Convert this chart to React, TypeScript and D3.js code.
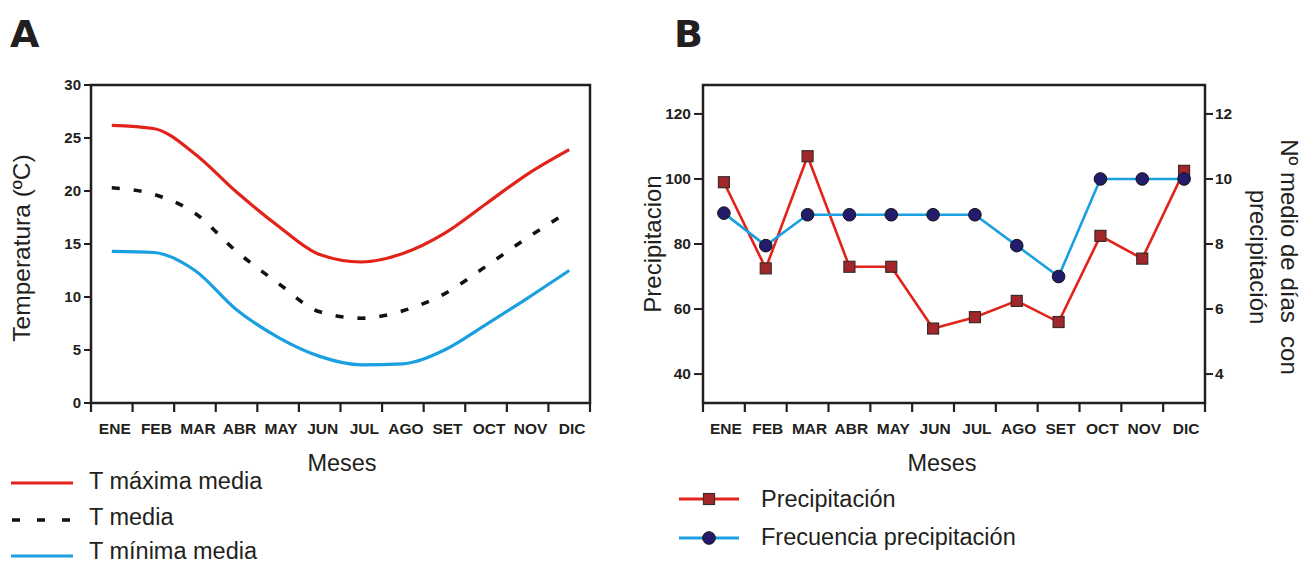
import React from 'react';
import * as d3 from 'd3';

const months = ['ENE', 'FEB', 'MAR', 'ABR', 'MAY', 'JUN', 'JUL', 'AGO', 'SET', 'OCT', 'NOV', 'DIC'];
const tMax = [26.2, 25.9, 23.5, 19.9, 16.7, 14.0, 13.3, 14.1, 16.0, 18.8, 21.6, 23.9];
const tMed = [20.3, 19.7, 17.9, 14.3, 11.3, 8.6, 8.0, 8.7, 10.3, 12.9, 15.6, 18.1];
const tMin = [14.3, 14.2, 12.5, 8.8, 6.2, 4.4, 3.6, 3.7, 5.0, 7.4, 9.9, 12.5];
const precip = [99, 72.5, 107, 73, 73, 54, 57.5, 62.5, 56, 82.5, 75.5, 102.5];
const freq = [8.95, 7.95, 8.9, 8.9, 8.9, 8.9, 8.9, 7.95, 7.0, 10, 10, 10];
const tempTicks = [0, 5, 10, 15, 20, 25, 30];
const precipTicks = [40, 60, 80, 100, 120];
const freqTicks = [4, 6, 8, 10, 12];

const RED = '#e2231a';
const BLUE = '#1a9fe0';
const DARK = '#231f20';
const SQ_FILL = '#a3262a';
const CIRC_FILL = '#221c6b';
const FONT = '"Liberation Sans", Arial, Helvetica, sans-serif';

export default function App() {
  // Panel A
  const xA = d3.scaleBand<string>().domain(months).range([91, 590]).padding(0);
  const yA = d3.scaleLinear().domain([0, 30]).range([403, 85]);
  const cxA = (m: string) => (xA(m) as number) + xA.bandwidth() / 2;
  const lineA = (vals: number[]) =>
    d3.line<number>().x((_, i) => cxA(months[i])).y((v) => yA(v)).curve(d3.curveMonotoneX)(vals) as string;

  // Panel B
  const xB = d3.scaleBand<string>().domain(months).range([703, 1205]).padding(0);
  const yL = d3.scaleLinear().domain([31.1, 128.9]).range([403, 85]);
  const yR = d3.scaleLinear().domain([3.11, 12.89]).range([403, 85]);
  const cxB = (m: string) => (xB(m) as number) + xB.bandwidth() / 2;
  const lineP = d3.line<number>().x((_, i) => cxB(months[i])).y((v) => yL(v))(precip) as string;
  const lineF = d3.line<number>().x((_, i) => cxB(months[i])).y((v) => yR(v))(freq) as string;

  const boundariesA = [...months.map((m) => xA(m) as number), 590];
  const boundariesB = [...months.map((m) => xB(m) as number), 1205];

  return (
    <svg
      width={1309}
      height={564}
      style={{ position: 'absolute', left: 0, top: 0, background: '#fff' }}
      fontFamily={FONT}
    >
      <rect x={0} y={0} width={1309} height={564} fill="#fff" />
      {/* Panel letters */}
      <text x={10} y={47} fontSize={38} fontWeight={900} fill={DARK} fontFamily='"DejaVu Sans", sans-serif'>A</text>
      <text x={674} y={47} fontSize={38} fontWeight={900} fill={DARK} fontFamily='"DejaVu Sans", sans-serif'>B</text>

      {/* ===== Panel A ===== */}
      <rect x={91} y={85} width={499} height={318} fill="none" stroke={DARK} strokeWidth={2.5} />
      {tempTicks.map((t) => (
        <g key={'ta' + t}>
          <line x1={84} x2={91} y1={yA(t)} y2={yA(t)} stroke={DARK} strokeWidth={2} />
          <text x={81} y={yA(t) + 5} textAnchor="end" fontSize={15} fontWeight="bold" fill={DARK}>{t}</text>
        </g>
      ))}
      {boundariesA.map((b, i) => (
        <line key={'bA' + i} x1={b} x2={b} y1={403} y2={412} stroke={DARK} strokeWidth={2.2} />
      ))}
      {months.map((m) => (
        <text key={'mA' + m} x={cxA(m) + 3} y={434} textAnchor="middle" fontSize={15.5} fontWeight="bold" fill={DARK}>{m}</text>
      ))}
      <path d={lineA(tMax)} fill="none" stroke={RED} strokeWidth={3.2} />
      <path d={lineA(tMed)} fill="none" stroke="#111" strokeWidth={3.6} strokeDasharray="8 14" />
      <path d={lineA(tMin)} fill="none" stroke={BLUE} strokeWidth={3.2} />
      <text x={342} y={471} textAnchor="middle" fontSize={23.5} fill={DARK}>Meses</text>
      <text transform="translate(21,248) rotate(-90)" textAnchor="middle" dominantBaseline="central" fontSize={24.5} fill={DARK}>Temperatura (ºC)</text>

      {/* Legend A */}
      <line x1={11} x2={73} y1={483} y2={483} stroke={RED} strokeWidth={3.2} />
      <text x={89} y={489} fontSize={23.5} fill={DARK}>T máxima media</text>
      <line x1={12} x2={73} y1={520} y2={520} stroke="#111" strokeWidth={3.6} strokeDasharray="8 17" />
      <text x={89} y={525} fontSize={23.5} fill={DARK}>T media</text>
      <line x1={11} x2={73} y1={556} y2={556} stroke={BLUE} strokeWidth={3.2} />
      <text x={89} y={559} fontSize={23.5} fill={DARK}>T mínima media</text>

      {/* ===== Panel B ===== */}
      <rect x={703} y={85} width={502} height={318} fill="none" stroke={DARK} strokeWidth={2.5} />
      {precipTicks.map((t) => (
        <g key={'pl' + t}>
          <line x1={694} x2={703} y1={yL(t)} y2={yL(t)} stroke={DARK} strokeWidth={2} />
          <text x={691} y={yL(t) + 5} textAnchor="end" fontSize={15.5} fontWeight="bold" fill={DARK}>{t}</text>
        </g>
      ))}
      {freqTicks.map((t) => (
        <g key={'fr' + t}>
          <line x1={1205} x2={1213} y1={yR(t)} y2={yR(t)} stroke={DARK} strokeWidth={2} />
          <text x={1215} y={yR(t) + 5} textAnchor="start" fontSize={15.5} fontWeight="bold" fill={DARK}>{t}</text>
        </g>
      ))}
      {boundariesB.map((b, i) => (
        <line key={'bB' + i} x1={b} x2={b} y1={403} y2={412} stroke={DARK} strokeWidth={2.2} />
      ))}
      {months.map((m) => (
        <text key={'mB' + m} x={cxB(m) + 2} y={434} textAnchor="middle" fontSize={15.5} fontWeight="bold" fill={DARK}>{m}</text>
      ))}
      <path d={lineP} fill="none" stroke={RED} strokeWidth={2.6} />
      <path d={lineF} fill="none" stroke={BLUE} strokeWidth={2.6} />
      {precip.map((v, i) => (
        <rect key={'sq' + i} x={cxB(months[i]) - 5.5} y={yL(v) - 5.5} width={11} height={11} fill={SQ_FILL} stroke="#3b2b2b" strokeWidth={1.2} />
      ))}
      {freq.map((v, i) => (
        <circle key={'c' + i} cx={cxB(months[i])} cy={yR(v)} r={6.3} fill={CIRC_FILL} stroke="#111" strokeWidth={1} />
      ))}
      <text x={942} y={471} textAnchor="middle" fontSize={23.5} fill={DARK}>Meses</text>
      <text transform="translate(652,244) rotate(-90)" textAnchor="middle" dominantBaseline="central" fontSize={24} fill={DARK}>Precipitacion</text>
      <g transform="translate(1289,257) rotate(90)">
        <text x={0} y={0} textAnchor="middle" dominantBaseline="central" fontSize={24} fill={DARK} style={{ whiteSpace: 'pre' }}>{'Nº medio de días  con'}</text>
        <text x={0} y={31} textAnchor="middle" dominantBaseline="central" fontSize={24} fill={DARK}>precipitación</text>
      </g>

      {/* Legend B */}
      <line x1={679} x2={739} y1={499} y2={499} stroke={RED} strokeWidth={3} />
      <rect x={703.5} y={493.5} width={11} height={11} fill={SQ_FILL} stroke="#3b2b2b" strokeWidth={1.2} />
      <text x={761} y={507} fontSize={23.5} fill={DARK}>Precipitación</text>
      <line x1={679} x2={739} y1={538} y2={538} stroke={BLUE} strokeWidth={3} />
      <circle cx={709} cy={538} r={6.3} fill={CIRC_FILL} stroke="#111" strokeWidth={1} />
      <text x={761} y={545} fontSize={23.5} fill={DARK}>Frecuencia precipitación</text>
    </svg>
  );
}
